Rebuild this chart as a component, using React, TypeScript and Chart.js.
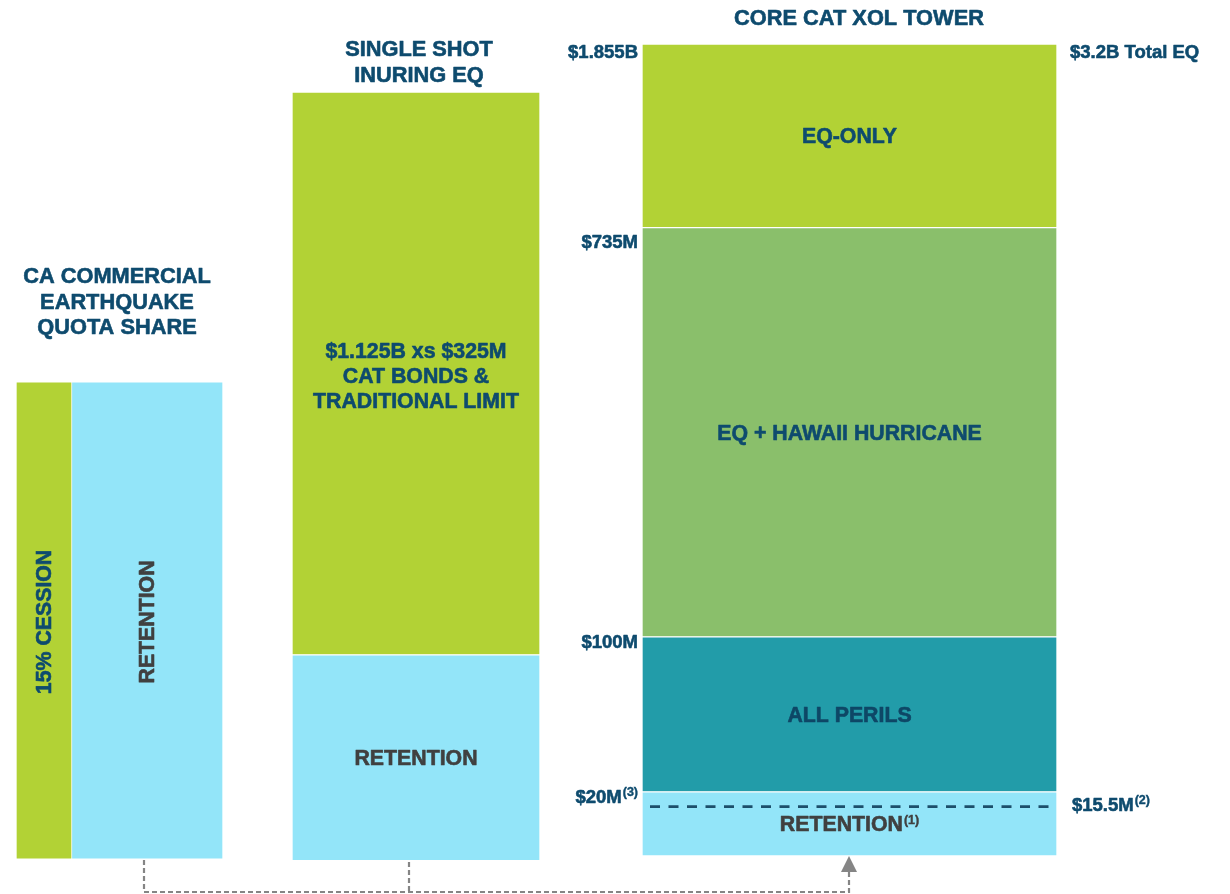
import React, { useEffect, useRef } from 'react';
import { Chart, registerables } from 'chart.js';

Chart.register(...registerables);

// ---------- DATA ----------
const columnTitles: string[][] = [
  ['CA COMMERCIAL', 'EARTHQUAKE', 'QUOTA SHARE'],
  ['SINGLE SHOT', 'INURING EQ'],
  ['CORE CAT XOL TOWER'],
];

// Quota share column (schematic height units, 0-100)
const qsLabels = ['15% CESSION', 'RETENTION'];
const qsRange: [number, number] = [0.6, 58.8];

// Single shot inuring column
const inuringLabels: string[][] = [['RETENTION'], ['$1.125B xs $325M', 'CAT BONDS &', 'TRADITIONAL LIMIT']];
const inuringBreaks = [0.4, 25.5, 94.15];

// Core cat XoL tower
const towerLabels = ['RETENTION', 'ALL PERILS', 'EQ + HAWAII HURRICANE', 'EQ-ONLY'];
const towerLabelNotes = ['(1)', '', '', ''];
const towerBreaks = [1.0, 8.8, 27.7, 77.6, 100];
const towerBreakLabels = ['', '$20M', '$100M', '$735M', '$1.855B'];
const towerBreakNotes = ['', '(3)', '', '', ''];
const retentionAttachment = 7.0;
const retentionAttachmentLabel = '$15.5M';
const retentionAttachmentNote = '(2)';
const totalLabel = '$3.2B Total EQ';

// ---------- LAYOUT & STYLE ----------
const LAYOUT = {
  qsCenters: [44, 147],
  qsWidths: [56, 152],
  inuringCenter: 416,
  inuringWidth: 248,
  towerCenter: 849.5,
  towerWidth: 415,
  titleX: [117, 419, 859],
  titleY: [277, 50, 19],
  titleLineHeight: 25.5,
  barLineHeight: 25,
  textDy: 1.5,
  breakLabelRight: 638,
  breakLabelOffsets: [0, 6, 6, 15, 9],
  rightLabelX: 1070,
  attachLabelX: 1072,
  attachLineStart: 650,
  connectorX: [144, 409],
  connectorTop: [860, 862],
  connectorY: 892,
  arrowX: 849,
  arrowTip: 856,
  arrowBase: 872,
};

const COLORS = {
  lime: '#B2D235',
  sky: '#93E5F9',
  leaf: '#8ABF6B',
  teal: '#229CA9',
  navy: '#0E4B6E',
  grey: '#404040',
  connector: '#858585',
  dash: '#1C4F6B',
};

const FONT = '"Liberation Sans", Arial, Helvetica, sans-serif';
const MAIN_SIZE = 21.3;
const TITLE_SIZE = 21.8;
const VALUE_SIZE = 18.5;
const SUP_SIZE = 12.5;

type LabelInfo = { lines: string[]; color: string; rotate?: boolean; sup?: string };

function buildDatasets() {
  const datasets: any[] = [];
  const labels: LabelInfo[] = [];
  const push = (x: number, w: number, range: [number, number], color: string, info: LabelInfo, name: string) => {
    datasets.push({
      label: name,
      data: [{ x, y: range }],
      backgroundColor: color,
      borderColor: '#FFFFFF',
      borderWidth: 1,
      borderSkipped: false,
      barThickness: w,
      grouped: false,
    });
    labels.push(info);
  };
  push(LAYOUT.qsCenters[0], LAYOUT.qsWidths[0], qsRange, COLORS.lime, { lines: [qsLabels[0]], color: COLORS.navy, rotate: true }, qsLabels[0]);
  push(LAYOUT.qsCenters[1], LAYOUT.qsWidths[1], qsRange, COLORS.sky, { lines: [qsLabels[1]], color: COLORS.grey, rotate: true }, qsLabels[1]);
  const inuringColors = [COLORS.sky, COLORS.lime];
  const inuringTextColors = [COLORS.grey, COLORS.navy];
  inuringLabels.forEach((lines, i) => {
    push(LAYOUT.inuringCenter, LAYOUT.inuringWidth, [inuringBreaks[i], inuringBreaks[i + 1]], inuringColors[i],
      { lines, color: inuringTextColors[i] }, lines.join(' '));
  });
  const towerColors = [COLORS.sky, COLORS.teal, COLORS.leaf, COLORS.lime];
  const towerTextColors = [COLORS.grey, '#0E4766', COLORS.navy, COLORS.navy];
  towerLabels.forEach((name, i) => {
    push(LAYOUT.towerCenter, LAYOUT.towerWidth, [towerBreaks[i], towerBreaks[i + 1]], towerColors[i],
      { lines: [name], color: towerTextColors[i], sup: towerLabelNotes[i] }, name);
  });
  return { datasets, labels };
}

function boldText(ctx: CanvasRenderingContext2D, text: string, x: number, y: number, weight = 0.6) {
  ctx.fillText(text, x, y);
  ctx.strokeStyle = ctx.fillStyle as string;
  ctx.lineWidth = weight;
  ctx.lineJoin = 'round';
  ctx.strokeText(text, x, y);
}

function drawWithSup(ctx: CanvasRenderingContext2D, main: string, sup: string, x: number, y: number,
  align: 'center' | 'left' | 'right', size: number) {
  ctx.font = `bold ${size}px ${FONT}`;
  const w1 = ctx.measureText(main).width;
  ctx.font = `bold ${SUP_SIZE}px ${FONT}`;
  const w2 = sup ? ctx.measureText(sup).width + 1 : 0;
  const total = w1 + w2;
  let start = x;
  if (align === 'center') start = x - total / 2;
  else if (align === 'right') start = x - total;
  ctx.textAlign = 'left';
  ctx.textBaseline = 'middle';
  ctx.font = `bold ${size}px ${FONT}`;
  boldText(ctx, main, start, y);
  if (sup) {
    ctx.font = `bold ${SUP_SIZE}px ${FONT}`;
    boldText(ctx, sup, start + w1 + 1, y - 5, 0.4);
  }
}

export default function App() {
  const ref = useRef<HTMLCanvasElement>(null);

  useEffect(() => {
    document.body.style.margin = '0';
    const { datasets, labels } = buildDatasets();

    const textPlugin = {
      id: 'diagramText',
      afterDraw(chart: any) {
        const ctx: CanvasRenderingContext2D = chart.ctx;
        const xs = chart.scales.x;
        const ys = chart.scales.y;
        ctx.save();

        // connectors (dashed grey)
        ctx.strokeStyle = COLORS.connector;
        ctx.lineWidth = 2.2;
        ctx.setLineDash([5, 3]);
        ctx.beginPath();
        LAYOUT.connectorX.forEach((cx, i) => {
          ctx.moveTo(cx, LAYOUT.connectorTop[i]);
          ctx.lineTo(cx, LAYOUT.connectorY);
        });
        ctx.moveTo(LAYOUT.connectorX[0], LAYOUT.connectorY);
        ctx.lineTo(LAYOUT.arrowX, LAYOUT.connectorY);
        ctx.lineTo(LAYOUT.arrowX, LAYOUT.arrowBase);
        ctx.stroke();
        ctx.setLineDash([]);
        ctx.fillStyle = COLORS.connector;
        ctx.beginPath();
        ctx.moveTo(LAYOUT.arrowX, LAYOUT.arrowTip);
        ctx.lineTo(LAYOUT.arrowX - 8, LAYOUT.arrowBase);
        ctx.lineTo(LAYOUT.arrowX + 8, LAYOUT.arrowBase);
        ctx.closePath();
        ctx.fill();

        // retention attachment dashed line
        const towerRight = xs.getPixelForValue(LAYOUT.towerCenter) + LAYOUT.towerWidth / 2 - 1;
        const attachY = ys.getPixelForValue(retentionAttachment);
        ctx.strokeStyle = COLORS.dash;
        ctx.lineWidth = 2.6;
        ctx.setLineDash([10, 8.5]);
        ctx.beginPath();
        ctx.moveTo(LAYOUT.attachLineStart, attachY);
        ctx.lineTo(towerRight, attachY);
        ctx.stroke();
        ctx.setLineDash([]);

        // titles
        ctx.fillStyle = COLORS.navy;
        ctx.textBaseline = 'middle';
        columnTitles.forEach((lines, c) => {
          lines.forEach((line, k) => {
            ctx.font = `bold ${TITLE_SIZE}px ${FONT}`;
            ctx.textAlign = 'center';
            boldText(ctx, line, LAYOUT.titleX[c], LAYOUT.titleY[c] + k * LAYOUT.titleLineHeight);
          });
        });

        // bar labels
        labels.forEach((info, i) => {
          const el = chart.getDatasetMeta(i).data[0];
          if (!el) return;
          const p = el.getProps(['x', 'y', 'base'], true);
          const cy = (p.y + p.base) / 2 + LAYOUT.textDy;
          ctx.fillStyle = info.color;
          if (info.rotate) {
            ctx.save();
            ctx.translate(p.x + LAYOUT.textDy, cy);
            ctx.rotate(-Math.PI / 2);
            ctx.font = `bold ${MAIN_SIZE}px ${FONT}`;
            ctx.textAlign = 'center';
            ctx.textBaseline = 'middle';
            boldText(ctx, info.lines[0], 0, 0);
            ctx.restore();
          } else {
            const n = info.lines.length;
            info.lines.forEach((line, k) => {
              const ly = cy + (k - (n - 1) / 2) * LAYOUT.barLineHeight + (n > 1 ? 2 : 0);
              drawWithSup(ctx, line, k === n - 1 ? info.sup || '' : '', p.x, ly, 'center', MAIN_SIZE);
            });
          }
        });

        // tower break labels
        ctx.fillStyle = COLORS.navy;
        towerBreakLabels.forEach((lab, i) => {
          if (!lab) return;
          const py = ys.getPixelForValue(towerBreaks[i]) + LAYOUT.breakLabelOffsets[i];
          drawWithSup(ctx, lab, towerBreakNotes[i], LAYOUT.breakLabelRight, py, 'right', VALUE_SIZE);
        });
        drawWithSup(ctx, totalLabel, '', LAYOUT.rightLabelX, ys.getPixelForValue(towerBreaks[towerBreaks.length - 1]) + 9, 'left', VALUE_SIZE);
        drawWithSup(ctx, retentionAttachmentLabel, retentionAttachmentNote, LAYOUT.attachLabelX, attachY - 1, 'left', VALUE_SIZE);

        ctx.restore();
      },
    };

    const chart = new Chart(ref.current as HTMLCanvasElement, {
      type: 'bar',
      data: { datasets },
      options: {
        animation: false,
        responsive: false,
        maintainAspectRatio: false,
        layout: { padding: { top: 44, bottom: 30, left: 0, right: 0 } },
        plugins: {
          legend: { display: false },
          tooltip: { enabled: false },
          title: { display: false },
        },
        scales: {
          x: { type: 'linear', min: 0, max: 1230, display: false, offset: false },
          y: { type: 'linear', min: 0, max: 100, display: false },
        },
      },
      plugins: [textPlugin],
    } as any);

    return () => chart.destroy();
  }, []);

  return (
    <div style={{ width: 1230, height: 894, position: 'relative', background: '#FFFFFF' }}>
      <canvas ref={ref} width={1230} height={894} style={{ display: 'block' }} />
    </div>
  );
}
